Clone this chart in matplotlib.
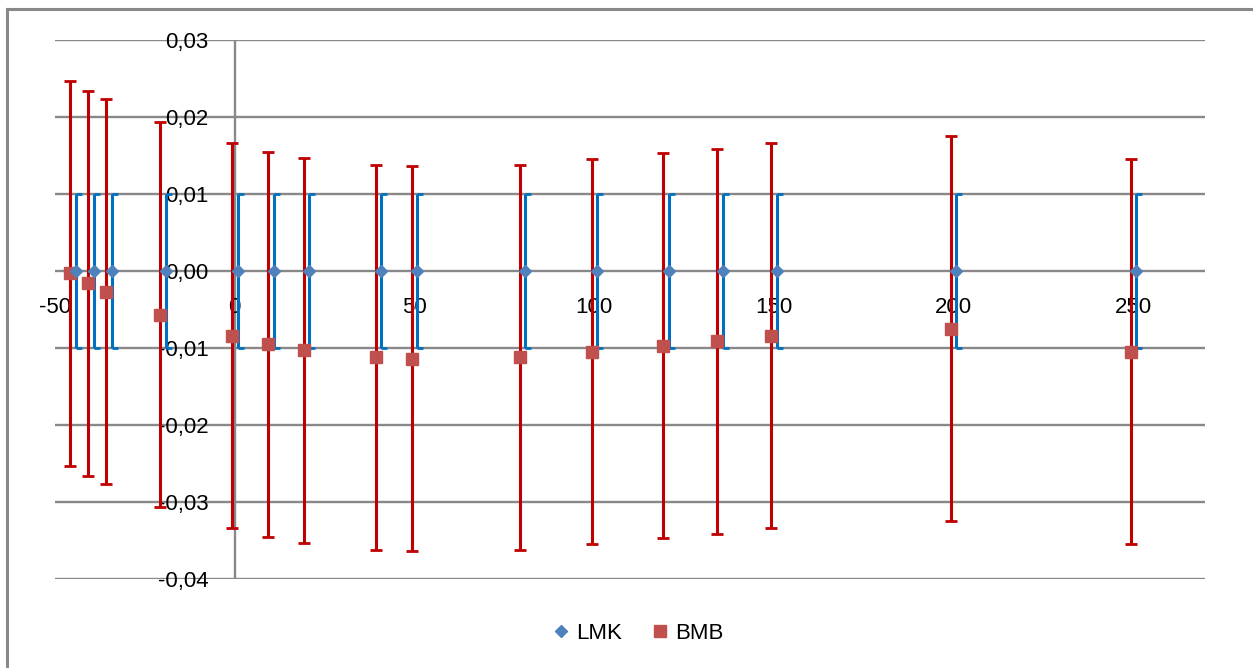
import matplotlib.pyplot as plt
from matplotlib.lines import Line2D
from matplotlib.path import Path

plt.rcParams['font.family'] = ['Liberation Sans', 'DejaVu Sans']

# measurement points (series are slightly shifted against each other in the source)
x_lmk = [-44.2, -39.2, -34.2, -19.2, 0.8, 10.8, 20.8, 40.8, 50.8, 80.8, 100.8, 120.8, 135.8, 150.8, 200.8, 250.8]
y_lmk = [0.0] * 16
err_lmk = [0.01] * 16

x_bmb = [-45.7, -40.7, -35.7, -20.7, -0.7, 9.3, 19.3, 39.3, 49.3, 79.3, 99.3, 119.3, 134.3, 149.3, 199.3, 249.3]
y_bmb = [-0.0003, -0.0016, -0.0027, -0.0057, -0.0084, -0.0095, -0.0103, -0.0112,
         -0.0114, -0.0112, -0.0105, -0.0097, -0.0091, -0.0084, -0.0075, -0.0105]
err_bmb = [0.025] * 16

xticks = [-50, 0, 50, 100, 150, 200, 250]
yticks = [-0.04, -0.03, -0.02, -0.01, 0.0, 0.01, 0.02, 0.03]
ylabels = ['-0,04', '-0,03', '-0,02', '-0,01', '0,00', '0,01', '0,02', '0,03']

fig = plt.figure(figsize=(12.53, 6.68), dpi=100)
ax = fig.add_axes([0.0439, 0.1332, 0.9178, 0.8069])

grid_col = '#888888'
for yv in yticks:
    ax.axhline(yv, color=grid_col, lw=1.7, zorder=1)
ax.axvline(0, color=grid_col, lw=1.7, zorder=1)

# LMK error bars with half caps pointing right, like the Excel original
ax.errorbar(x_lmk, y_lmk, yerr=err_lmk, fmt='none', ecolor='#0070C0', elinewidth=2.2,
            capsize=0, zorder=2)
half_cap = Path([(0, 0), (1, 0)], [Path.MOVETO, Path.LINETO])
top_lmk = [y + e for y, e in zip(y_lmk, err_lmk)]
bot_lmk = [y - e for y, e in zip(y_lmk, err_lmk)]
ax.plot(x_lmk, top_lmk, ls='none', marker=half_cap, ms=8, mew=2, color='#0070C0', zorder=2)
ax.plot(x_lmk, bot_lmk, ls='none', marker=half_cap, ms=8, mew=2, color='#0070C0', zorder=2)

ax.errorbar(x_bmb, y_bmb, yerr=err_bmb, fmt='none', ecolor='#C00000', elinewidth=2.2,
            capsize=4.5, capthick=2, zorder=2)
ax.plot(x_lmk, y_lmk, 'D', color='#4F81BD', ms=6.5, mec='#4F81BD', zorder=4)
ax.plot(x_bmb, y_bmb, 's', color='#C0504D', ms=8.5, mec='#C0504D', zorder=3)

ax.set_xlim(-50, 270)
ax.set_ylim(-0.04, 0.03)
for s in ['top', 'right', 'bottom', 'left']:
    ax.spines[s].set_visible(False)
# labels sit next to the axes crossing at zero
ax.spines['bottom'].set_position(('data', 0))
ax.spines['left'].set_position(('data', 0))

ax.set_xticks(xticks)
ax.set_xticklabels([str(v) for v in xticks])
ax.set_yticks(yticks)
ax.set_yticklabels(ylabels)
ax.tick_params(axis='x', length=0, pad=19, labelsize=16)
ax.tick_params(axis='y', length=0, pad=19, labelsize=16)

handles = [Line2D([], [], marker='D', ls='none', color='#4F81BD', ms=6.5),
           Line2D([], [], marker='s', ls='none', color='#C0504D', ms=8.5)]
fig.legend(handles, ['LMK', 'BMB'], loc='center', bbox_to_anchor=(0.508, 0.052),
           ncol=2, frameon=False, fontsize=16, handletextpad=0.2, columnspacing=1.2,
           handlelength=1.0)

# chart border (only top/left visible in the source crop)
fig.add_artist(Line2D([0.0056, 1.0], [0.9865, 0.9865], color='#888888', lw=2.2, transform=fig.transFigure))
fig.add_artist(Line2D([0.0056, 0.0056], [0.0, 0.9865], color='#888888', lw=2.2, transform=fig.transFigure))

fig.savefig('out.png', dpi=100)
